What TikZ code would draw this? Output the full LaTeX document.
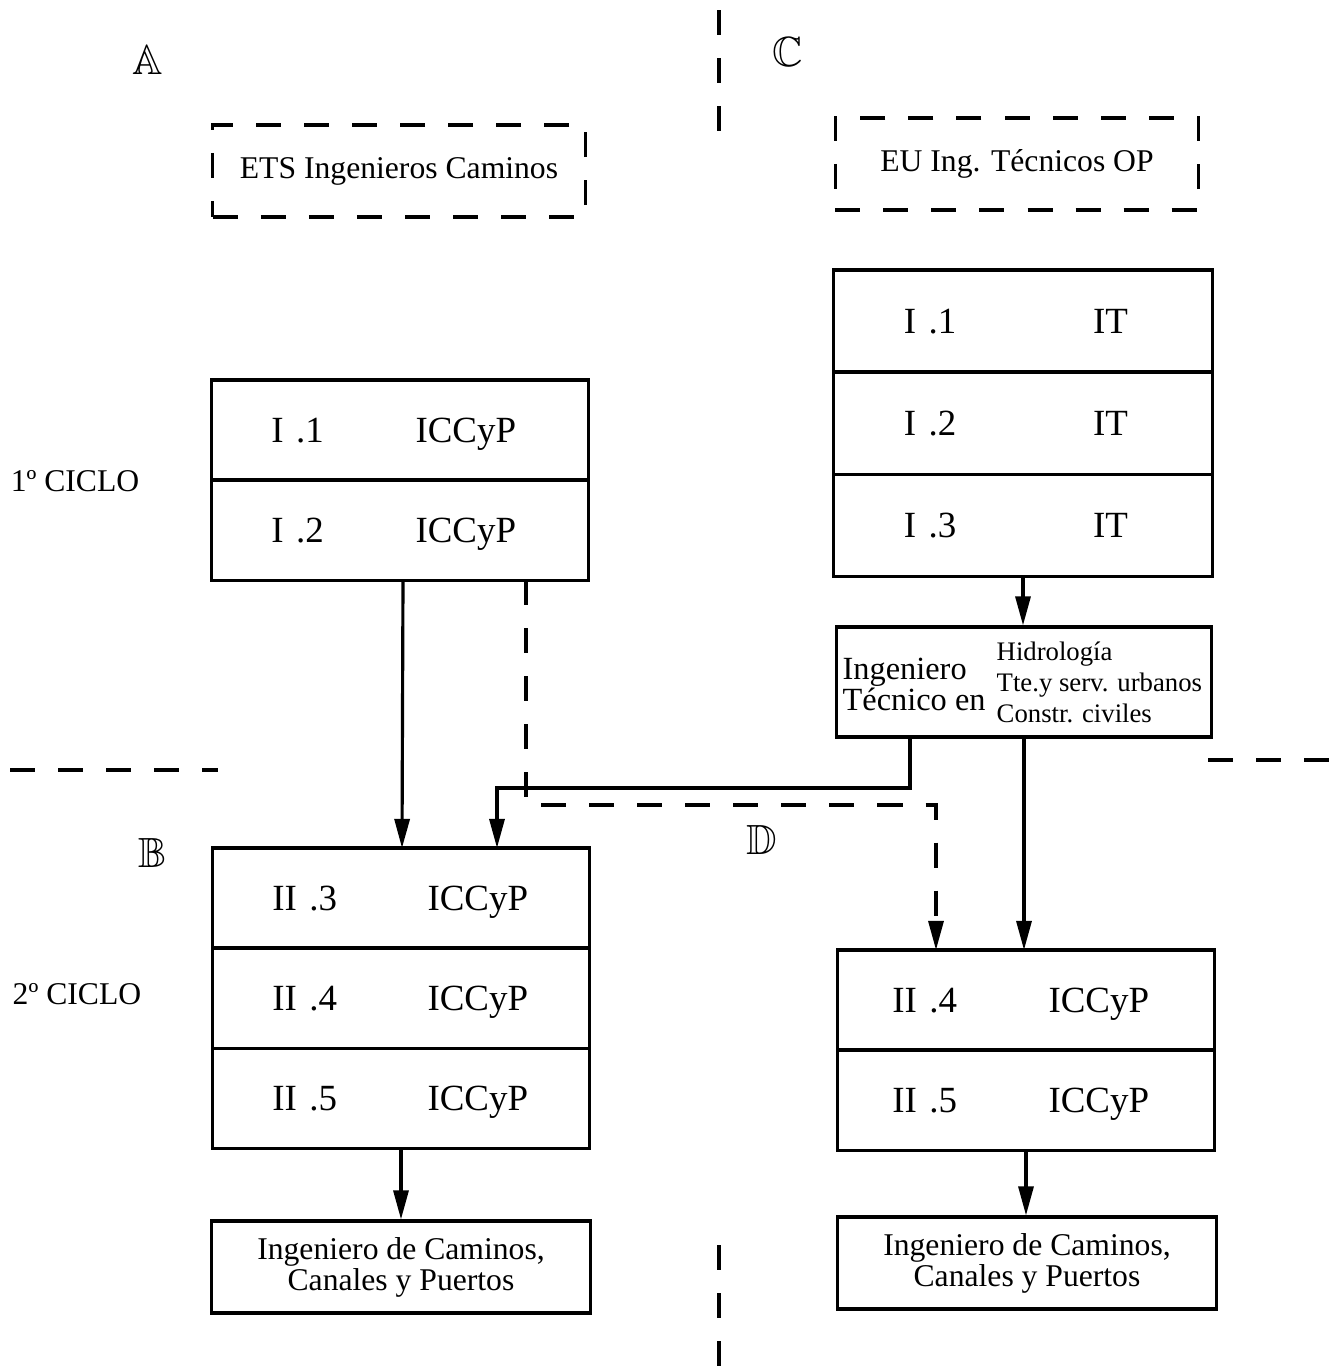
\documentclass[tikz,border=0pt]{standalone}
\usepackage{amssymb}
\usepackage{fontspec}
\setmainfont{Liberation Serif}
\usetikzlibrary{positioning, arrows.meta}

\newcommand{\rowtext}[3][1.55cm]{\makebox[#1][l]{#2}#3}

\tikzset{
  cell/.style={draw, line width=0.9pt, outer sep=0pt, minimum height=1.0cm,
    text width=2.57cm, inner xsep=0.6cm, align=left, text depth=0pt,
    font=\fontsize{10.5pt}{12pt}\selectfont},
  dashbox/.style={draw, line width=0.9pt, dash pattern=on 0.25cm off 0.23cm,
    minimum width=3.72cm, minimum height=0.92cm, font=\fontsize{9pt}{11pt}\selectfont},
  titlebox/.style={draw, line width=0.9pt, minimum width=3.78cm, minimum height=0.92cm,
    align=center, font=\fontsize{9pt}{8.8pt}\selectfont},
  partline/.style={line width=0.9pt, dash pattern=on 0.25cm off 0.23cm},
  arr/.style={line width=0.9pt, -{Triangle[length=2.9mm, width=1.5mm]}},
  dasharr/.style={arr, dash pattern=on 0.25cm off 0.23cm},
  sidelabel/.style={font=\fontsize{9pt}{11pt}\selectfont},
  zone/.style={font=\fontsize{12pt}{14pt}\selectfont}
}

\begin{document}
\begin{tikzpicture}[x=0.01cm, y=-0.01cm]
  \useasboundingbox (0,0) rectangle (1329,1366);

  % zone letters
  \node[zone] (zA) at (148,60) {$\mathbb{A}$};
  \node[zone] (zB) at (153,853) {$\mathbb{B}$};
  \node[zone] (zC) at (788,52) {$\mathbb{C}$};
  \node[zone] (zD) at (762,840) {$\mathbb{D}$};

  % zone separators
  \draw[partline] (719,10) -- (719,132);
  \draw[partline] (719,1245) -- (719,1366);
  \draw[partline] (10,770) -- (218,770);
  \draw[partline] (1208,760) -- (1329,760);

  % schools
  \node[dashbox] (ets) at (399,171) {ETS Ingenieros Caminos};
  \node[dashbox, minimum width=3.63cm] (eu) at (1017,164) {EU Ing. T\'ecnicos OP};

  % cycle labels
  \node[sidelabel] (ciclo1) at (75,481) {1º CICLO};
  \node[sidelabel] (ciclo2) at (77,994) {2º CICLO};

  % A: first cycle
  \node[cell] (l1) at (400,430) {\rowtext[1.44cm]{I .1}{ICCyP}};
  \node[cell, below=0pt of l1] (l2) {\rowtext[1.44cm]{I .2}{ICCyP}};

  % C: technical engineer
  \node[cell, minimum height=1.02cm, inner xsep=0.7cm, text width=2.38cm] (r1) at (1023,321) {\rowtext[1.89cm]{I .1}{IT}};
  \node[cell, minimum height=1.02cm, inner xsep=0.7cm, text width=2.38cm, below=0pt of r1] (r2) {\rowtext[1.89cm]{I .2}{IT}};
  \node[cell, minimum height=1.02cm, inner xsep=0.7cm, text width=2.38cm, below=0pt of r2] (r3) {\rowtext[1.89cm]{I .3}{IT}};

  \node[draw, line width=0.9pt, minimum width=3.75cm, minimum height=1.1cm] (ite) at (1024,682) {};
  \node[anchor=west, inner sep=0pt, align=left, font=\fontsize{9.2pt}{8.8pt}\selectfont] (ite-a) at (842,684) {Ingeniero\\T\'ecnico en};
  \node[anchor=west, inner sep=0pt, align=left, font=\fontsize{7.6pt}{8.8pt}\selectfont] (ite-b) at (996,682) {Hidrolog\'{\i}a\\Tte.y serv. urbanos\\Constr. civiles};

  % B: second cycle
  \node[cell] (c3) at (401,898) {\rowtext{II .3}{ICCyP}};
  \node[cell, below=0pt of c3] (c4) {\rowtext{II .4}{ICCyP}};
  \node[cell, below=0pt of c4] (c5) {\rowtext{II .5}{ICCyP}};

  % D: second cycle after IT
  \node[cell, inner xsep=0.55cm, text width=2.67cm] (d4) at (1026,1000) {\rowtext[1.56cm]{II .4}{ICCyP}};
  \node[cell, inner xsep=0.55cm, text width=2.67cm, below=0pt of d4] (d5) {\rowtext[1.56cm]{II .5}{ICCyP}};

  % degrees
  \node[titlebox] (finL) at (401,1267) {Ingeniero de Caminos,\\Canales y Puertos};
  \node[titlebox] (finR) at (1027,1263) {Ingeniero de Caminos,\\Canales y Puertos};

  % connectors
  \coordinate (sturn) at (497,788);
  \coordinate (dturn) at (936,805);
  \draw[arr] ([xshift=0.03cm]l2.south) -- ([xshift=0.02cm]l2.south |- c3.north);
  \draw[dasharr] ([xshift=1.26cm]l2.south) |- (dturn) -- (dturn |- d4.north);
  \draw[arr] (r3.south) -- (r3.south |- ite.north);
  \draw[arr] ([xshift=-1.14cm]ite.south) |- (sturn) -- (sturn |- c3.north);
  \draw[arr] (ite.south) -- (ite.south |- d4.north);
  \draw[arr] (c5.south) -- (c5.south |- finL.north);
  \draw[arr] (d5.south) -- (d5.south |- finR.north);
\end{tikzpicture}
\end{document}
